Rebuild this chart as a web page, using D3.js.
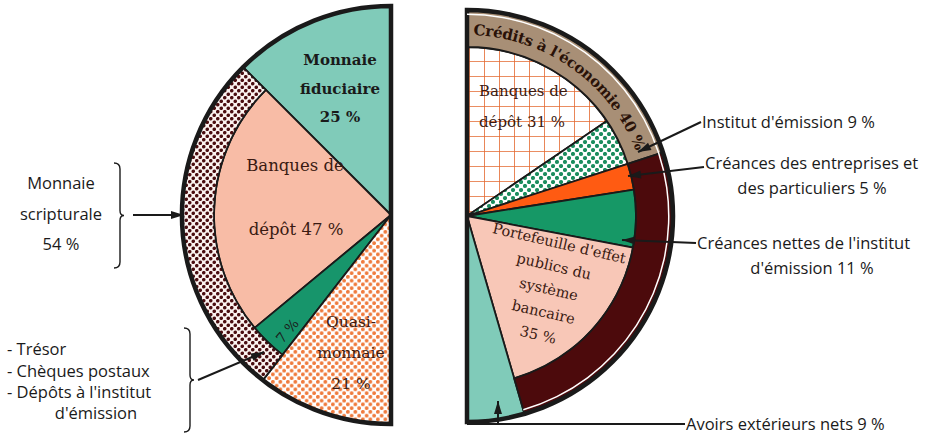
<!DOCTYPE html>
<html>
<head>
<meta charset="utf-8">
<script src="https://cdn.jsdelivr.net/npm/d3@7"></script>
<style>
  body { margin: 0; background: #fff; }
  svg { display: block; }
</style>
</head>
<body>
<div id="chart"></div>
<script>
// DATA - left half : composition of money supply
var leftNames = ["Monnaie fiduciaire", "Banques de dépôt", "Trésor, chèques postaux, dépôts à l'institut d'émission", "Quasi-monnaie"];
var leftValues = [25, 47, 7, 21];
var leftRingNames = ["Monnaie scripturale"];
var leftRingValues = [54];
var leftRingSlices = [[1, 2]];

// DATA - right half : counterparts
var rightNames = ["Banques de dépôt", "Institut d'émission", "Créances des entreprises et des particuliers",
  "Créances nettes de l'institut d'émission", "Portefeuille d'effets publics du système bancaire", "Avoirs extérieurs nets"];
var rightValues = [31, 9, 5, 11, 35, 9];
var rightRingNames = ["Crédits à l'économie", "Créances sur le Trésor"];
var rightRingValues = [40, 51];
var rightRingSlices = [[0, 1], [2, 4]];

var width = 927, height = 437;

var svg = d3.select("#chart").append("svg")
  .attr("width", width).attr("height", height);

//PATTERNS
var defs = svg.append("defs");
function dots(id, bg, col, size, r) {
  var p = defs.append("pattern").attr("id", id)
    .attr("patternUnits", "userSpaceOnUse")
    .attr("width", size).attr("height", size);
  p.append("rect").attr("width", size).attr("height", size).attr("fill", bg);
  p.append("circle").attr("cx", size / 4).attr("cy", size / 4).attr("r", r).attr("fill", col);
  p.append("circle").attr("cx", size * 3 / 4).attr("cy", size * 3 / 4).attr("r", r).attr("fill", col);
}
dots("dotsMaroon", "#fbf3f0", "#4a0d10", 7, 1.8);
dots("dotsOrange", "#fff", "#ef7a3c", 7.5, 1.9);
dots("dotsGreen", "#fff", "#1b8d5e", 8, 2.1);

var grid = defs.append("pattern").attr("id", "gridOrange")
  .attr("patternUnits", "userSpaceOnUse")
  .attr("width", 15).attr("height", 15)
  .attr("x", 467).attr("y", 10);
grid.append("rect").attr("width", 15).attr("height", 15).attr("fill", "#fff");
grid.append("path").attr("d", "M0 0 H15 M0 0 V15").attr("stroke", "#e4682e").attr("stroke-width", 1.6);

var leftFill = ["#80cbb9", "#f8bca6", "#17956b", "url(#dotsOrange)"];
var leftRingFill = ["url(#dotsMaroon)"];
var rightFill = ["url(#gridOrange)", "url(#dotsGreen)", "#ff5b12", "#169866", "#f8c7b7", "#80cbb9"];
var rightRingFill = ["#a88f76", "#4c0a0c"];

var ink = "#1a1a1a";
var brown = "#3a1a12";

//DRAW ONE HALF PIE
function halfPie(cx, cy, R, rIn, values, ringSlices, ringValues, fills, ringFills, endAngle) {
  var g = svg.append("g").attr("transform", "translate(" + cx + "," + cy + ")");
  var pie = d3.pie().sort(null).startAngle(0).endAngle(endAngle);
  var arcs = pie(values);
  var inRing = values.map(function() { return false; });
  ringSlices.forEach(function(s) { for (var i = s[0]; i <= s[1]; i++) inRing[i] = true; });

  g.selectAll("path.slice").data(arcs).enter().append("path")
    .attr("class", "slice")
    .attr("d", function(d, i) {
      return d3.arc().innerRadius(0).outerRadius(inRing[i] ? rIn : R)(d);
    })
    .attr("fill", function(d, i) { return fills[i]; })
    .attr("stroke", ink).attr("stroke-width", 1.8).attr("stroke-linejoin", "round");

  var ringArcs = ringSlices.map(function(s, k) {
    return { startAngle: arcs[s[0]].startAngle, endAngle: arcs[s[1]].endAngle, value: ringValues[k] };
  });
  g.selectAll("path.ring").data(ringArcs).enter().append("path")
    .attr("class", "ring")
    .attr("d", d3.arc().innerRadius(rIn).outerRadius(R))
    .attr("fill", function(d, i) { return ringFills[i]; })
    .attr("stroke", ink).attr("stroke-width", 1.8);

  // outline
  g.append("path")
    .attr("d", d3.arc().innerRadius(0).outerRadius(R)({ startAngle: 0, endAngle: endAngle }))
    .attr("fill", "none").attr("stroke", ink).attr("stroke-width", 4.5).attr("stroke-linejoin", "miter");
  return { g: g, arcs: arcs, rings: ringArcs };
}

var left = halfPie(391, 215, 209, 177, leftValues, leftRingSlices, leftRingValues, leftFill, leftRingFill, -Math.PI);
var right = halfPie(467, 216, 206, 169, rightValues, rightRingSlices, rightRingValues, rightFill, rightRingFill, Math.PI);

// thin white line inside right outline
right.g.append("path")
  .attr("d", d3.arc().innerRadius(201).outerRadius(202.5)({ startAngle: 0, endAngle: right.arcs[4].endAngle }))
  .attr("fill", "#fff");

//TEXT HELPERS
function lines(sel, arr, x, y0, dy, opts) {
  var t = sel.append("text")
    .attr("font-family", opts.family)
    .attr("font-size", opts.size)
    .attr("font-weight", opts.weight || "normal")
    .attr("fill", opts.fill)
    .attr("text-anchor", opts.anchor || "middle");
  arr.forEach(function(s, i) {
    t.append("tspan").attr("x", x).attr("y", y0 + i * dy).text(s);
  });
  return t;
}
var serif = "'DejaVu Serif', serif";
var sans = "'Open Sans', sans-serif";

// left chart labels
lines(svg, ["Monnaie", "fiduciaire", "25 %"], 340, 65, 28.5, { family: serif, size: 15, weight: "bold", fill: ink });
lines(svg, ["Banques de"], 295, 171, 0, { family: serif, size: 16.5, fill: brown });
lines(svg, ["dépôt 47 %"], 296, 235, 0, { family: serif, size: 16.5, fill: brown });
lines(svg, ["Quasi-", "monnaie", "21 %"], 351, 327, 31, { family: serif, size: 15.5, fill: brown });
svg.append("text")
  .attr("transform", "translate(291,334) rotate(-50)")
  .attr("text-anchor", "middle")
  .attr("font-family", serif).attr("font-size", 14).attr("fill", ink)
  .text("7 %");

// right chart labels
lines(svg, ["Banques de", "dépôt 31 %"], 479, 96, 31, { family: serif, size: 15, fill: brown, anchor: "start" });
var pf = svg.append("g").attr("transform", "translate(548,292) rotate(13)");
lines(pf, ["Portefeuille d'effet", "publics du", "système", "bancaire", "35 %"], 0, -45, 23.5, { family: serif, size: 14.5, fill: brown });

// curved ring label, one glyph at a time along the ring
(function() {
  var rc = right.rings[0];
  var rt = 181, a = 0.035;
  var label = rightRingNames[0] + " " + rightRingValues[0] + " %";
  var meas = svg.append("text").attr("font-family", serif).attr("font-size", 15).attr("font-weight", "bold");
  label.split("").forEach(function(ch) {
    meas.text(ch === " " ? "\u00a0" : ch);
    var w = meas.node().getComputedTextLength() * 0.97;
    var am = a + (w / 2) / rt;
    if (ch !== " ") {
      svg.append("text")
        .attr("transform", "translate(" + (467 + rt * Math.sin(am)) + "," + (216 - rt * Math.cos(am)) + ") rotate(" + (am * 180 / Math.PI) + ")")
        .attr("text-anchor", "middle")
        .attr("font-family", serif).attr("font-size", 15).attr("font-weight", "bold").attr("fill", "#2a1208")
        .text(ch);
    }
    a += w / rt;
  });
  meas.remove();
})();

// outer labels
var fs = 16.5;
lines(svg, ["Monnaie", "scripturale", leftRingValues[0] + " %"], 61, 189, 30.5, { family: sans, size: fs, fill: ink });
lines(svg, ["- Trésor", "- Chèques postaux", "- Dépôts à l'institut"], 7, 355, 21.5, { family: sans, size: fs, fill: ink, anchor: "start" });
lines(svg, ["d'émission"], 96, 419, 0, { family: sans, size: fs, fill: ink });

lines(svg, ["Institut d'émission " + rightValues[1] + " %"], 702, 128, 0, { family: sans, size: fs, fill: ink, anchor: "start" });
lines(svg, ["Créances des entreprises et"], 705, 169, 0, { family: sans, size: fs, fill: ink, anchor: "start" });
lines(svg, ["des particuliers " + rightValues[2] + " %"], 812, 194, 0, { family: sans, size: fs, fill: ink });
lines(svg, ["Créances nettes de l'institut"], 697, 249, 0, { family: sans, size: fs, fill: ink, anchor: "start" });
lines(svg, ["d'émission " + rightValues[3] + " %"], 812, 274, 0, { family: sans, size: fs, fill: ink });
lines(svg, ["Avoirs extérieurs nets " + rightValues[5] + " %"], 686, 430, 0, { family: sans, size: fs, fill: ink, anchor: "start" });

//BRACKETS AND LEADERS
function brace(x, y0, y1) {
  var m = (y0 + y1) / 2;
  svg.append("path")
    .attr("d", "M" + (x - 6) + "," + y0 + " Q" + x + "," + y0 + " " + x + "," + (y0 + 6) +
      " L" + x + "," + (m - 5) + " Q" + x + "," + m + " " + (x + 4) + "," + m +
      " Q" + x + "," + m + " " + x + "," + (m + 5) +
      " L" + x + "," + (y1 - 6) + " Q" + x + "," + y1 + " " + (x - 6) + "," + y1)
    .attr("fill", "none").attr("stroke", ink).attr("stroke-width", 1.4);
}
brace(120, 163, 268);
brace(190, 328, 432);

function leader(x0, y0, x1, y1, head) {
  svg.append("line").attr("x1", x0).attr("y1", y0).attr("x2", x1).attr("y2", y1)
    .attr("stroke", ink).attr("stroke-width", 2);
  if (head) {
    var ang = Math.atan2(y1 - y0, x1 - x0), L = 13, W = 4;
    var bx = x1 - L * Math.cos(ang), by = y1 - L * Math.sin(ang);
    svg.append("path")
      .attr("d", "M" + x1 + "," + y1 + " L" + (bx - W * Math.sin(ang)) + "," + (by + W * Math.cos(ang)) +
        " L" + (bx + W * Math.sin(ang)) + "," + (by - W * Math.cos(ang)) + "Z")
      .attr("fill", ink);
  }
}
leader(133, 215, 184, 215, true);
leader(198, 380, 264, 352, true);
leader(701, 122, 638, 152, true);
leader(704, 167, 628, 176, true);
leader(696, 243, 622, 240, true);
leader(467, 424, 685, 424, false);
leader(498, 424, 498, 401, true);
</script>
</body>
</html>
